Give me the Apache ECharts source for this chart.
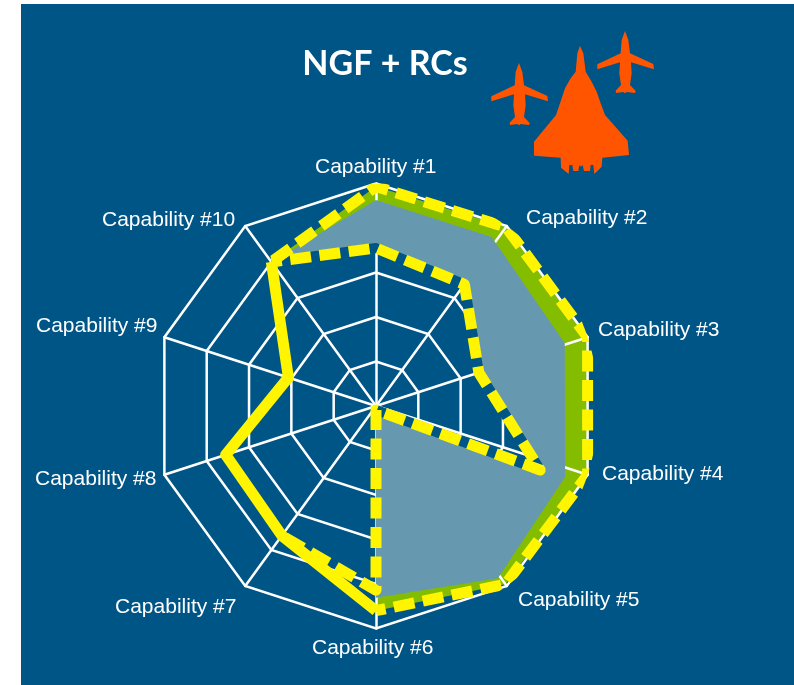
<!DOCTYPE html>
<html><head><meta charset="utf-8">
<style>html,body{margin:0;padding:0;background:#fff}#c{width:794px;height:685px}</style>
<script src="https://cdn.jsdelivr.net/npm/echarts@6/dist/echarts.min.js"></script>
</head><body><div id="c"></div>
<script>
var categories=['Capability #1','Capability #2','Capability #3','Capability #4','Capability #5','Capability #6','Capability #7','Capability #8','Capability #9','Capability #10'];
// values on a 0..5 scale
var outerValues=[4.93,4.97,5,5,4.95,4.6];                 // #1..#6 dashed outer outline
var innerValues=[3.55,3.38,2.43,3.96,0.09,4.14,3.6];      // #1..#7 dashed inner outline
var innerBearings=[0,36,72,111.3,180,180,216];
var lowerValues=[4.0,2.07,3.55,3.6,4.6];                  // #10,#9,#8,#7,#6 solid outline
var tenthValue=4.0;
// shaded band, outer edge (value, bearing) for #10,#1..#6
var bandValues=[3.98,4.63,4.6,4.47,4.54,4.74,4.31];
var bandBearings=[328.4,0,34.4,71.6,110.6,144.7,180];

var STEP=36;
function pairs(vals,idx){return vals.map(function(v,i){return [v,idx[i]*STEP];});}
var outerLine=[[tenthValue,324]].concat(pairs(outerValues,[0,1,2,3,4,5]));
var innerLine=[[tenthValue,324]].concat(innerValues.map(function(v,i){return [v,innerBearings[i]];}));
var innerTop=innerLine.slice(0,6);                         // #10..#4 then centre
var lowerLine=pairs(lowerValues,[9,8,7,6,5]);
var bandEdge=bandValues.map(function(v,i){return [v,bandBearings[i]];});
// inner return path: centre, #4, #3, #2, #1
var innerReturn=[innerLine[5],innerLine[4],innerLine[3],innerLine[2],innerLine[1]];

var labelSpots=[[315,167],[526,218],[598,330],[602,474],[518,600],[312,648],[115,607],[35,479],[36,326],[102,220]];
var BG='#005587',YEL='#FFF500',GRN='#84BD00',FILL='#6699AF',ORG='#FF5500';

function polyRender(points,color){
  return function(p,api){
    return {type:'polygon',shape:{points:points.map(function(q){return api.coord(q);})},style:{fill:color}};
  };
}
var jet=[[300,78],[310,100],[317,155],[335,185],[350,215],[362,250],[375,285],[443,362],[447,405],[367,413],[365,440],[343,462],[340,435],[332,435],[330,453],[312,453],[308,435],[303,440],[298,435],[295,453],[280,453],[277,435],[268,435],[266,462],[243,443],[242,413],[162,407],[162,365],[228,285],[240,250],[255,205],[272,175],[287,155],[292,100]];
var plane=[[435,33],[445,60],[450,100],[520,132],[522,148],[453,127],[455,160],[450,195],[467,213],[465,219],[440,216],[435,220],[430,216],[408,219],[407,212],[423,195],[418,160],[420,127],[352,148],[352,133],[422,100],[425,60]];
function icon(pts,dx,dy){return {type:'polygon',z:6,shape:{points:pts.map(function(q){return [480+(q[0]+dx)/3,20+(q[1]+dy)/3];})},style:{fill:ORG}};}

var graphics=[{type:'rect',z:-10,shape:{x:21,y:4,width:773,height:681},style:{fill:BG}},icon(jet,0,0),icon(plane,0,0),icon(plane,-318,96)];
categories.forEach(function(c,i){
  graphics.push({type:'text',z:6,x:labelSpots[i][0],y:labelSpots[i][1],style:{text:c,fill:'#fff',font:'21px "Liberation Sans", Arial, sans-serif',textAlign:'left',textVerticalAlign:'middle'}});
});
function lineSeries(data,color,width,dash,z,offset){
  return {type:'line',coordinateSystem:'polar',data:data,showSymbol:false,symbol:'none',clip:false,z:z,animation:false,silent:true,
    encode:{radius:0,angle:1},
    lineStyle:{color:color,width:width,type:dash||'solid',dashOffset:offset||0,cap:'butt',join:'round'}};
}
function areaSeries(points,color,z){
  return {type:'custom',coordinateSystem:'polar',data:[[0,0]],encode:{radius:0,angle:1},renderItem:polyRender(points,color),z:z,animation:false,silent:true,clip:false};
}
var chart=echarts.init(document.getElementById('c'),null,{renderer:'canvas'});
chart.setOption({
  animation:false,
  backgroundColor:'#fff',
  title:{text:'NGF + RCs',left:380,top:59,textAlign:'center',textVerticalAlign:'middle',textStyle:{color:'#fff',fontFamily:'Lato',fontWeight:'bold',fontSize:34}},
  graphic:graphics,
  radar:{center:[376,406],radius:222.5,startAngle:90,splitNumber:5,shape:'polygon',z:0,
    indicator:categories.map(function(c){return {name:c,min:0,max:5};}),
    axisName:{show:false},
    axisLine:{lineStyle:{color:'#fff',width:2.5}},axisTick:{show:false},
    splitLine:{lineStyle:{color:'#fff',width:2.5}},splitArea:{show:false}},
  polar:{center:[376,406],radius:222.5},
  angleAxis:{type:'value',min:0,max:360,startAngle:90,clockwise:true,show:false},
  radiusAxis:{type:'value',min:0,max:5,show:false},
  series:[
    areaSeries(outerLine.concat(innerReturn),GRN,-1),
    areaSeries(bandEdge.concat(innerReturn),FILL,1),
    lineSeries(innerTop,BG,10,null,2),
    lineSeries(outerLine,YEL,11,[21,8.5],4,27),
    lineSeries(innerLine,YEL,11,[21,8.5],3,10.5),
    lineSeries(lowerLine,YEL,11,null,5)
  ]
});
</script></body></html>
